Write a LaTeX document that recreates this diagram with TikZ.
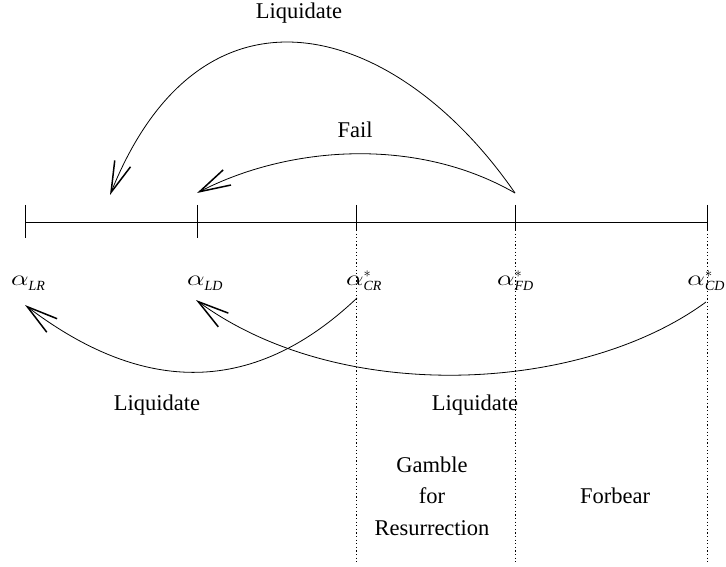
\documentclass[tikz,border=0pt]{standalone}
\usepackage{amsmath}
\usepackage{graphicx}
\usepackage{fontspec}
\setmainfont{Liberation Serif}
\usetikzlibrary{arrows.meta}
\DeclareMathSizes{22.5}{22.5}{14}{11}
\newcommand\albl[2]{$\hbox{\scalebox{1.35}[1.05]{$\alpha$}}^{#1}_{\textit{#2}}$}
\begin{document}
\begin{tikzpicture}[x=1pt,y=-1pt,
  every node/.style={font=\fontsize{22.5}{27}\selectfont, inner sep=0pt, outer sep=0pt},
  lbl/.style={anchor=base},
  albl/.style={anchor=base west},
  axisline/.style={line width=0.9pt},
  guide/.style={line width=0.9pt, dash pattern=on 1.2pt off 2.4pt},
  arc/.style={line width=0.8pt, -{Straight Barb[length=31pt,width=17pt,line width=1.5pt]}}
]
\useasboundingbox (0,0) rectangle (726,567);
% axis
\coordinate (LR) at (25,222);
\coordinate (LD) at (197,222);
\coordinate (CR) at (356,222);
\coordinate (FD) at (515,222);
\coordinate (CD) at (707,222);
\draw[axisline] (LR) -- (CD);
\draw[axisline] (25,205) -- (25,238);
\draw[axisline] (197,205) -- (197,238);
\draw[axisline] (356,205) -- (356,230);
\draw[axisline] (515,205) -- (515,230);
\draw[axisline] (707,205) -- (707,230);
\draw[guide] (356,230) -- (356,563);
\draw[guide] (515,230) -- (515,563);
\draw[guide] (707,230) -- (707,563);
% labels
\node[albl] (aLR) at (11,285) {\albl{}{LR}};
\node[albl] (aLD) at (187,285) {\albl{}{LD}};
\node[albl] (aCR) at (346,285) {\albl{*}{CR}};
\node[albl] (aFD) at (497,285) {\albl{*}{FD}};
\node[anchor=base east] (aCD) at (725,285) {\albl{*}{CD}};
% upper arcs
\coordinate (fdtop) at (515,193);
\coordinate (tipA) at (110,195);
\coordinate (tipB) at (197,193);
\draw[arc] (fdtop) .. controls (397,22) and (203,-36) .. (tipA);
\draw[arc] (fdtop) .. controls (416,136) and (288,146) .. (tipB);
\node[lbl] (tLiq) at (299,19) {Liquidate};
\node[lbl] (tFail) at (355,138) {Fail};
% lower arcs
\coordinate (crbot) at (357,298);
\coordinate (cdbot) at (706,302);
\coordinate (tipC) at (25,305);
\coordinate (tipD) at (196,300);
\draw[arc] (crbot) .. controls (242,407) and (129,384) .. (tipC);
\draw[arc] (cdbot) .. controls (582,393) and (341,406) .. (tipD);
\node[lbl] (bLiqL) at (157,410) {Liquidate};
\node[lbl] (bLiqR) at (475,410) {Liquidate};
% regions
\node[lbl] (g1) at (432,472) {Gamble};
\node[lbl] (g2) at (432,503) {for};
\node[lbl] (g3) at (432,535) {Resurrection};
\node[lbl] (fb) at (615,503) {Forbear};
\end{tikzpicture}
\end{document}
